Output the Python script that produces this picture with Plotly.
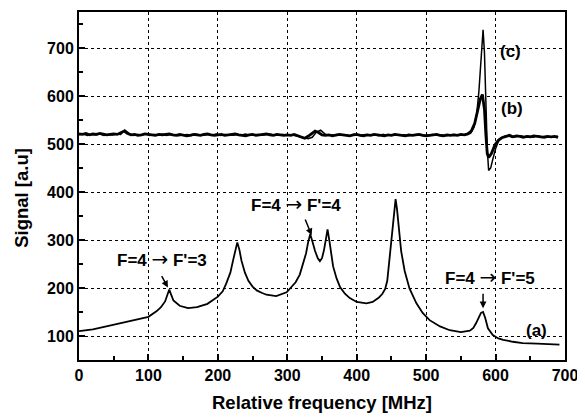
import plotly.graph_objects as go

# ---- data ----
# trace (a): absorption spectrum
a_freq = [0, 20, 49, 78, 100, 112, 118, 124, 127, 130, 133, 136, 145, 157, 170, 185, 200, 207,
          212, 218, 222, 225, 228, 231, 234, 239, 244, 250, 256, 263, 270, 284, 299, 304, 312,
          318, 323, 327, 330, 333, 336, 340, 344, 347, 350, 353, 356, 358, 361, 366, 371, 376,
          383, 390, 400, 414, 423, 432, 437, 441, 444, 447, 450, 453, 456, 458, 460, 464, 469,
          476, 486, 495, 505, 520, 534, 550, 563, 568, 572, 576, 579, 582, 585, 589, 596, 604,
          611, 625, 639, 660, 680, 692]
a_signal = [110, 114, 123, 133, 140, 152, 160, 172, 185, 197, 185, 174, 163, 158, 160, 167, 182, 193,
            209, 232, 258, 280, 295, 280, 257, 232, 215, 203, 195, 190, 186, 183, 191, 199, 212,
            228, 250, 272, 295, 312, 298, 277, 262, 256, 262, 280, 305, 322, 295, 245, 220, 202,
            188, 179, 171, 168, 171, 180, 188, 198, 215, 260, 310, 350, 385, 365, 335, 277, 236,
            199, 168, 148, 133, 120, 112, 108, 111, 117, 127, 140, 148, 150, 138, 116, 102, 95,
            92, 88, 85, 84, 83, 82]

# trace (b)
b_freq = [0, 5, 10, 15, 20, 25, 30, 35, 40, 45, 50, 55,
          60, 65, 70, 75, 80, 85, 90, 95, 100, 105, 110, 115,
          120, 125, 130, 135, 140, 145, 150, 155, 160, 165, 170, 175,
          180, 185, 190, 195, 200, 205, 210, 215, 220, 225, 230, 235,
          240, 245, 250, 255, 260, 265, 270, 275, 280, 285, 290, 295,
          300, 305, 310, 315, 320, 325, 330, 335, 340, 345, 350, 355,
          360, 365, 370, 375, 380, 385, 390, 395, 400, 405, 410, 415,
          420, 425, 430, 435, 440, 445, 450, 455, 460, 465, 470, 475,
          480, 485, 490, 495, 500, 505, 510, 515, 520, 525, 530, 535,
          540, 545, 550, 555,
          560, 565, 570, 574, 578, 581, 584, 586, 588, 590, 594, 599, 604, 609,
          615, 620, 625, 630, 635, 640, 645, 650, 655, 660, 665, 670, 675, 680, 685, 690]
b_signal = [521, 520, 522, 519, 521, 520, 522, 521, 519, 520, 521, 520,
            523, 527, 522, 519, 520, 518, 519, 521, 520, 519, 518, 520,
            519, 520, 521, 519, 518, 520, 519, 517, 518, 520, 519, 518,
            520, 521, 519, 518, 519, 520, 518, 519, 520, 521, 519, 518,
            517, 519, 520, 518, 519, 520, 521, 519, 518, 520, 519, 518,
            519, 518, 520, 517, 514, 512, 516, 521, 527, 524, 519, 518,
            519, 517, 518, 520, 519, 518, 517, 519, 520, 518, 517, 519,
            518, 520, 519, 518, 517, 519, 518, 520, 519, 518, 517, 519,
            518, 519, 520, 518, 517, 518, 519, 520, 518, 517, 519, 518,
            519, 518, 520, 519,
            521, 527, 543, 566, 594, 603, 572, 520, 480, 472, 480, 498, 508, 513,
            516, 518, 515, 517, 516, 514, 516, 515, 517, 516, 515, 514, 516, 515, 516, 514]

# trace (c)
c_freq = [0, 6, 12, 18, 24, 30, 36, 42, 48, 54, 60, 66, 72, 78, 84, 90, 96, 102, 108, 114, 120, 126,
          132, 138, 144, 150, 156, 162, 168, 174, 180, 186, 192, 198, 204, 210, 216, 222, 228, 234,
          240, 246, 252, 258, 264, 270, 276, 282, 288, 294, 300, 306, 312, 318, 324, 330, 336, 342,
          348, 354, 360, 366, 372, 378, 384, 390, 396, 402, 408, 414, 420, 426, 432, 438, 444, 450,
          456, 462, 468, 474, 480, 486, 492, 498, 504, 510, 516, 522, 528, 534, 540, 546, 552, 558,
          564, 569, 573, 576, 579, 582, 584, 586, 588, 590, 593, 596, 600, 604, 608, 613, 618, 624,
          630, 636, 642, 648, 654, 660, 666, 672, 678, 684, 690]
c_signal = [519, 521, 518, 520, 519, 521, 518, 520, 519, 521, 520, 529, 522, 518, 520, 519, 521, 518,
            520, 519, 521, 518, 520, 519, 517, 519, 520, 518, 521, 519, 518, 520, 519, 521, 518, 520,
            519, 518, 520, 519, 521, 518, 519, 520, 518, 519, 521, 518, 519, 520, 518, 519, 517, 515,
            513, 511, 514, 525, 529, 521, 518, 519, 520, 518, 519, 517, 520, 518, 519, 520, 518, 519,
            517, 520, 518, 519, 520, 518, 519, 517, 518, 520, 519, 518, 519, 520, 518, 519, 517, 518,
            520, 519, 518, 520, 522, 535, 565, 610, 670, 738, 690, 590, 490, 445, 450, 468, 490, 505,
            512, 516, 517, 514, 516, 517, 515, 516, 514, 517, 515, 516, 514, 515, 516]

x_ticks = [0, 100, 200, 300, 400, 500, 600, 700]
y_ticks = [100, 200, 300, 400, 500, 600, 700]

FONT = "Liberation Sans, Arial, Helvetica, sans-serif"

fig = go.Figure()
fig.add_trace(go.Scatter(x=a_freq, y=a_signal, mode="lines",
                         line=dict(color="black", width=1.8), showlegend=False))
fig.add_trace(go.Scatter(x=b_freq, y=b_signal, mode="lines",
                         line=dict(color="black", width=2.8), showlegend=False))
fig.add_trace(go.Scatter(x=c_freq, y=c_signal, mode="lines",
                         line=dict(color="black", width=1.5), showlegend=False))

axis_common = dict(
    showline=True, mirror=True, linecolor="black", linewidth=2,
    ticks="inside", ticklen=6, tickwidth=2, tickcolor="black",
    showgrid=True, gridcolor="black", gridwidth=1, griddash="dot",
    zeroline=False,
    tickfont=dict(family=FONT, size=16, color="black", weight="bold"),
)
minor_common = dict(dtick=50, ticks="inside", ticklen=4, tickwidth=2,
                    tickcolor="black", showgrid=False)

fig.update_xaxes(range=[0, 700], tickvals=x_ticks, minor=minor_common, **axis_common)
fig.update_yaxes(range=[50, 775], tickvals=y_ticks, minor=minor_common, **axis_common)

title_font = dict(family=FONT, size=18.5, color="black", weight="bold")
fig.add_annotation(text="Relative frequency [MHz]", xref="paper", yref="paper",
                   x=0.5, y=0, yshift=-42, xanchor="center", yanchor="middle",
                   showarrow=False, font=title_font)
fig.add_annotation(text="Signal [a.u]", xref="paper", yref="paper",
                   x=0, y=0.466, xshift=-57, xanchor="center", yanchor="middle",
                   textangle=-90, showarrow=False, font=title_font)

ARROW = "<span style=\"font-family:'DejaVu Sans';font-size:20px;font-weight:normal\">\u2192</span>"
ann_font = dict(family=FONT, size=17, color="black", weight="bold")
labels = [
    ("F=4 " + ARROW + " F'=3", 120, 261),
    ("F=4 " + ARROW + " F'=4", 312, 375),
    ("F=4 " + ARROW + " F'=5", 592, 222),
    ("(a)", 659, 112),
    ("(c)", 622, 692),
    ("(b)", 624, 574),
]
for txt, xx, yy in labels:
    fig.add_annotation(x=xx, y=yy, xref="x", yref="y", text=txt, showarrow=False,
                       font=ann_font, xanchor="center", yanchor="middle")

arrows = [
    (118, 228, 128, 201),
    (325, 346, 335, 310),
    (582, 191, 582, 158),
]
for x0, y0, x1, y1 in arrows:
    fig.add_annotation(x=x1, y=y1, ax=x0, ay=y0, xref="x", yref="y", axref="x", ayref="y",
                       text="", showarrow=True, arrowhead=2, arrowsize=0.9,
                       arrowwidth=1.5, arrowcolor="black")

# page has an 8px body margin, so the figure is sized to fill the rest of the window
fig.update_layout(
    width=577, height=409,
    margin=dict(l=71, r=20, t=2, b=57),
    paper_bgcolor="white", plot_bgcolor="white",
    font=dict(family=FONT, color="black"),
)

fig.write_html("out.html")
